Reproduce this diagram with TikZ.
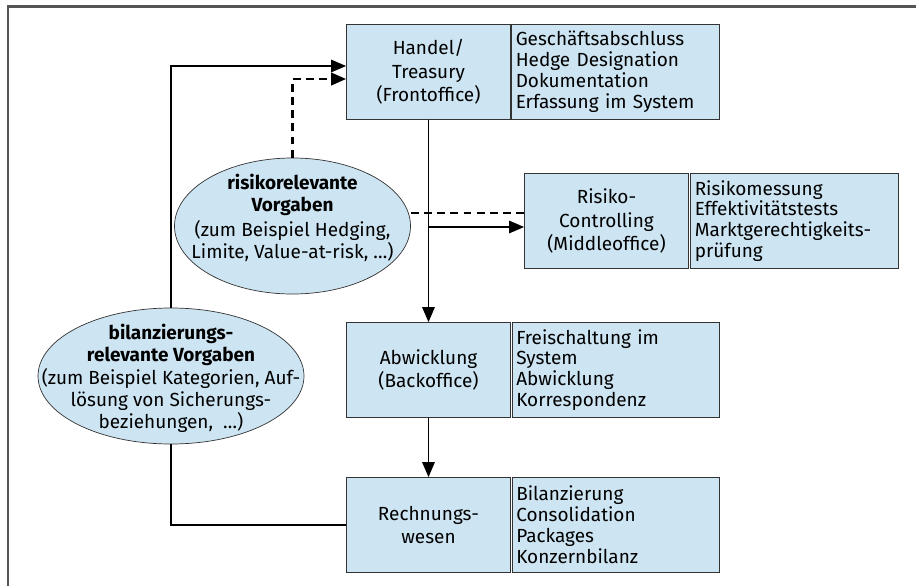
\documentclass[tikz,border=0pt]{standalone}
\usepackage{fontspec}
\setmainfont{Fira Sans}
\usetikzlibrary{shapes.geometric}
\usetikzlibrary{arrows.meta}
\definecolor{boxblue}{RGB}{205,228,242}
\definecolor{framegray}{RGB}{85,85,85}
\tikzset{
	unit/.style={rectangle, draw=black!80, fill=boxblue, minimum width=3.28cm, minimum height=1.9cm, align=center, inner sep=1pt, font=\fontsize{10.8}{13.4}\selectfont},
	tasks/.style={rectangle, draw=black!80, fill=boxblue, minimum width=4.15cm, minimum height=1.9cm, text width=3.99cm, inner xsep=0.08cm, align=left, font=\fontsize{10.8}{11.9}\selectfont},
	rule/.style={ellipse, draw=black!80, fill=boxblue, minimum height=2.72cm},
	ruletext/.style={align=center, inner sep=0pt, font=\fontsize{10.8}{12.4}\selectfont},
	flow/.style={-{Triangle[length=8.5pt, width=7pt]}, line width=0.95pt},
	hint/.style={line width=1.5pt, dash pattern=on 4.5pt off 3pt}
}

\begin{document}
\begin{tikzpicture}
			\useasboundingbox (0, 0) rectangle (18.32, -11.72);
			\draw [framegray, line width=1.2pt] (0.16, -11.72) -- (0.16, -0.13) -- (18.32, -0.13);
			% Einheiten und Aufgaben
			\node at (8.57, -1.44) [unit] (handel) {Handel/\\Treasury\\(Frontoffice)};
			\node at (12.31, -1.44) [tasks] (handeltasks) {Geschäftsabschluss\\Hedge Designation\\Dokumentation\\Erfassung im System};
			\node at (12.13, -4.42) [unit] (risiko) {Risiko-\\Controlling\\(Middleoffice)};
			\node at (15.89, -4.42) [tasks] (risikotasks) {Risikomessung\\Effektivitätstests\\Marktgerechtigkeits-\\prüfung};
			\node at (8.57, -7.40) [unit] (abw) {Abwicklung\\(Backoffice)};
			\node at (12.32, -7.40) [tasks] (abwtasks) {Freischaltung im\\System\\Abwicklung\\Korrespondenz};
			\node at (8.57, -10.50) [unit] (rech) {Rechnungs-\\wesen};
			\node at (12.32, -10.50) [tasks] (rechtasks) {Bilanzierung\\Consolidation\\Packages\\Konzernbilanz};
			% Vorgaben
			\node at (5.85, -4.52) [rule, minimum width=4.72cm] (risk) {};
			\node at (5.85, -4.36) [ruletext] (risktext) {\textbf{risikorelevante}\\\textbf{Vorgaben}\\[2pt](zum Beispiel Hedging,\\Limite, Value-at-risk, \dots)};
			\node at (3.42, -7.52) [rule, minimum width=5.32cm] (bil) {};
			\node at (3.42, -7.56) [ruletext] (biltext) {\textbf{bilanzierungs-}\\\textbf{relevante Vorgaben}\\[1pt](zum Beispiel Kategorien, Auf-\\lösung von Sicherungs-\\beziehungen,\ \ \dots)};
			\coordinate (rin) at ([yshift=-0.12cm]risiko.west);
			\coordinate (rdash) at ([yshift=0.16cm]risiko.west);
			% Verbindungen
			\draw [flow] (handel) -- (abw);
			\draw [flow] (abw) -- (rech);
			\draw [flow] (handel.south |- rin) -- (rin);
			\draw [hint] (risk.east |- rdash) -- (rdash);
			\draw [flow] (bil.north) |- ([yshift=0.12cm]handel.west);
			\draw [flow, hint] (risk.north) |- ([yshift=-0.14cm]handel.west);
			\draw [line width=0.95pt] (bil.south) |- (rech.west);
		\end{tikzpicture}
\end{document}
